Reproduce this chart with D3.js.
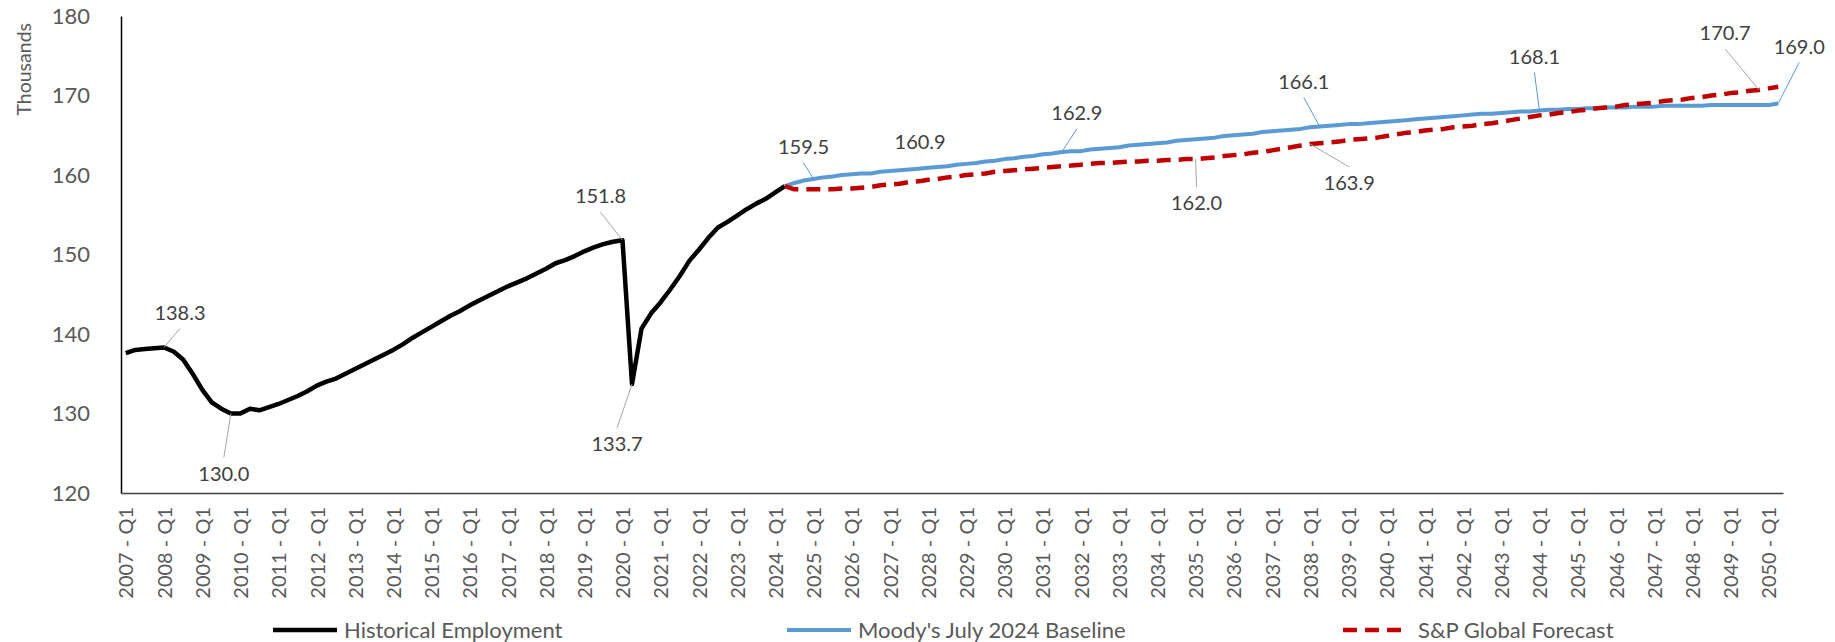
<!DOCTYPE html>
<html>
<head>
<meta charset="utf-8">
<script src="https://cdn.jsdelivr.net/npm/d3@7"></script>
<style>
    body { margin: 0; background: #fff; }
    svg { display: block; font-family: Lato, "Open Sans", sans-serif; }
</style>
</head>
<body>
<svg id="chart" width="1835" height="642"></svg>
<script>
// quarterly axis: 2007 - Q1 .. 2050 - Q2
const firstYear = 2007
const quarterCount = 174
const yTicks = [120, 130, 140, 150, 160, 170, 180]

// 2007 Q1 .. 2024 Q2
const historical = [
    137.6, 138.0, 138.1, 138.2, 138.3, 137.8, 136.8, 135.0,
    133.0, 131.4, 130.6, 130.0, 130.0, 130.6, 130.4, 130.8,
    131.2, 131.7, 132.2, 132.8, 133.5, 134.0, 134.4, 135.0,
    135.6, 136.2, 136.8, 137.4, 138.0, 138.7, 139.5, 140.2,
    140.9, 141.6, 142.3, 142.9, 143.6, 144.2, 144.8, 145.4,
    146.0, 146.5, 147.0, 147.6, 148.2, 148.9, 149.3, 149.8,
    150.4, 150.9, 151.3, 151.6, 151.8, 133.7, 140.7, 142.6,
    144.0, 145.6, 147.3, 149.2, 150.6, 152.1, 153.4, 154.1,
    154.9, 155.7, 156.4, 157.0, 157.8, 158.6
]

// forecasts start at the last historical quarter (2024 Q2)
const forecastStart = 69

const moodys = [
    158.6, 159.0, 159.3, 159.5, 159.7, 159.8, 160.0, 160.1,
    160.2, 160.2, 160.4, 160.5, 160.6, 160.7, 160.8, 160.9,
    161.0, 161.1, 161.3, 161.4, 161.5, 161.7, 161.8, 162.0,
    162.1, 162.3, 162.4, 162.6, 162.7, 162.9, 163.0, 163.0,
    163.2, 163.3, 163.4, 163.5, 163.7, 163.8, 163.9, 164.0,
    164.1, 164.3, 164.4, 164.5, 164.6, 164.7, 164.9, 165.0,
    165.1, 165.2, 165.4, 165.5, 165.6, 165.7, 165.8, 166.0,
    166.1, 166.2, 166.3, 166.4, 166.4, 166.5, 166.6, 166.7,
    166.8, 166.9, 167.0, 167.1, 167.2, 167.3, 167.4, 167.5,
    167.6, 167.7, 167.7, 167.8, 167.9, 168.0, 168.0, 168.1,
    168.2, 168.2, 168.3, 168.3, 168.4, 168.4, 168.5, 168.5,
    168.5, 168.6, 168.6, 168.6, 168.7, 168.7, 168.7, 168.7,
    168.7, 168.8, 168.8, 168.8, 168.8, 168.8, 168.8, 168.8,
    169.0
]

const spGlobal = [
    158.6, 158.2, 158.2, 158.2, 158.2, 158.2, 158.3, 158.3,
    158.4, 158.5, 158.7, 158.8, 158.9, 159.1, 159.2, 159.4,
    159.5, 159.7, 159.8, 160.0, 160.1, 160.2, 160.4, 160.5,
    160.6, 160.7, 160.8, 160.9, 161.0, 161.1, 161.2, 161.3,
    161.4, 161.5, 161.5, 161.6, 161.7, 161.7, 161.8, 161.8,
    161.9, 161.9, 162.0, 162.0, 162.1, 162.2, 162.4, 162.5,
    162.6, 162.8, 162.9, 163.1, 163.3, 163.5, 163.7, 163.9,
    164.0, 164.1, 164.2, 164.4, 164.5, 164.6, 164.7, 164.9,
    165.1, 165.3, 165.4, 165.6, 165.7, 165.8, 166.0, 166.1,
    166.2, 166.4, 166.5, 166.7, 166.9, 167.1, 167.3, 167.5,
    167.6, 167.8, 167.9, 168.1, 168.2, 168.4, 168.5, 168.6,
    168.8, 168.9, 169.0, 169.1, 169.3, 169.4, 169.5, 169.7,
    169.8, 170.0, 170.1, 170.3, 170.4, 170.6, 170.7, 170.9,
    171.1
]

const seriesNames = ["Historical Employment", "Moody's July 2024 Baseline", "S&P Global Forecast"]

// labelled points: which series, which quarter
const labelSeries = [0, 0, 0, 0, 1, 1, 1, 2, 1, 2, 1, 2, 1]
const labelQuarter = [4, 11, 52, 53, 72, 84, 98, 112, 125, 124, 148, 171, 173]

// label placement relative to its point
const labelDx = [16, -7, -22, -15, -10, -8, 15, 1, -16, 39, -5, -34, 21]
const labelDy = [-35, 60, -44, 60, -32, -26, -39, 44, -45, 39, -54, -57, -57]
const labelLeader = [true, true, true, true, true, false, true, true, true, true, true, true, true]

const colors = ["#000000", "#5B9BD5", "#C00000"]
const leaderColors = ["#A6A6A6", "#5B9BD5", "#A6A6A6"]

const svg = d3.select("#chart")
const margin = {top: 16, right: 52, bottom: 149, left: 121}
const width = +svg.attr("width") - margin.left - margin.right
const height = +svg.attr("height") - margin.top - margin.bottom

const categories = d3.range(quarterCount).map(i => firstYear + Math.floor(i / 4) + " - Q" + (i % 4 + 1))

const x = d3.scalePoint().domain(categories).range([0, width]).padding(0.5)
const y = d3.scaleLinear().domain([120, 180]).range([height, 0])

const g = svg.append("g").attr("transform", "translate(" + margin.left + "," + margin.top + ")")

const series = [
    historical.map((v, i) => ({i: i, v: v})),
    moodys.map((v, i) => ({i: i + forecastStart, v: v})),
    spGlobal.map((v, i) => ({i: i + forecastStart, v: v}))
]

// axes
const axisY = d3.axisLeft(y).tickValues(yTicks).tickSize(0).tickSizeOuter(0).tickPadding(31)
g.append("g")
    .attr("class", "axis axis--y")
    .call(axisY)
    .call(s => s.select(".domain").attr("stroke", "#000").attr("stroke-width", 1.5))
    .call(s => s.selectAll("text").attr("fill", "#595959").style("font-size", "22px").style("font-family", "Lato"))

const axisX = d3.axisBottom(x)
    .tickValues(categories.filter((d, i) => i % 4 === 0))
    .tickSize(0).tickSizeOuter(0)
g.append("g")
    .attr("class", "axis axis--x")
    .attr("transform", "translate(0," + height + ")")
    .call(axisX)
    .call(s => s.select(".domain").attr("stroke", "#404040").attr("stroke-width", 1.5))
    .call(s => s.selectAll("text")
        .attr("y", 0).attr("x", -14).attr("dy", "0.36em")
        .attr("transform", "rotate(-90)")
        .style("text-anchor", "end")
        .attr("fill", "#595959")
        .style("font-size", "20px").style("font-family", "Lato"))

svg.append("text")
    .attr("transform", "translate(31,23) rotate(-90)")
    .attr("text-anchor", "end")
    .attr("fill", "#595959")
    .style("font-size", "19.5px")
    .text("Thousands")

// lines
const line = d3.line().x(d => x(categories[d.i])).y(d => y(d.v))

g.selectAll(".series")
    .data(series)
    .enter().append("path")
    .attr("class", "series")
    .attr("d", line)
    .attr("fill", "none")
    .attr("stroke", (d, k) => colors[k])
    .attr("stroke-width", (d, k) => k === 1 ? 4 : 4.5)
    .attr("stroke-linejoin", "round")
    .attr("stroke-dasharray", (d, k) => k === 2 ? "14,8" : null)

// data labels
const labels = labelSeries.map((s, k) => {
    const p = series[s].find(d => d.i === labelQuarter[k])
    const px = x(categories[p.i]), py = y(p.v)
    return {s: s, v: p.v, px: px, py: py, lx: px + labelDx[k], ly: py + labelDy[k], leader: labelLeader[k]}
})

g.selectAll(".leader")
    .data(labels.filter(d => d.leader))
    .enter().append("line")
    .attr("class", "leader")
    .attr("x1", d => d.lx)
    .attr("y1", d => d.ly + (d.ly < d.py ? 16 : -16))
    .attr("x2", d => d.px)
    .attr("y2", d => d.py)
    .attr("stroke", d => leaderColors[d.s])
    .attr("stroke-width", 1)

g.selectAll(".label")
    .data(labels)
    .enter().append("text")
    .attr("class", "label")
    .attr("x", d => d.lx)
    .attr("y", d => d.ly)
    .attr("dy", "0.36em")
    .attr("text-anchor", "middle")
    .attr("fill", "#404040")
    .style("font-size", "20px")
    .text(d => d.v.toFixed(1))

// legend
const legendX = [273, 787, 1343]
const legend = svg.selectAll(".legend")
    .data(seriesNames)
    .enter().append("g")
    .attr("class", "legend")
    .attr("transform", (d, k) => "translate(" + legendX[k] + ",630)")

legend.append("line")
    .attr("x1", 0).attr("x2", 64)
    .attr("stroke", (d, k) => colors[k])
    .attr("stroke-width", (d, k) => k === 1 ? 4 : 4.5)
    .attr("stroke-dasharray", (d, k) => k === 2 ? "14,8" : null)

legend.append("text")
    .attr("x", (d, k) => k === 2 ? 75 : 71)
    .attr("dy", "0.36em")
    .attr("fill", "#595959")
    .style("font-size", "22px")
    .text(d => d)
</script>
</body>
</html>
